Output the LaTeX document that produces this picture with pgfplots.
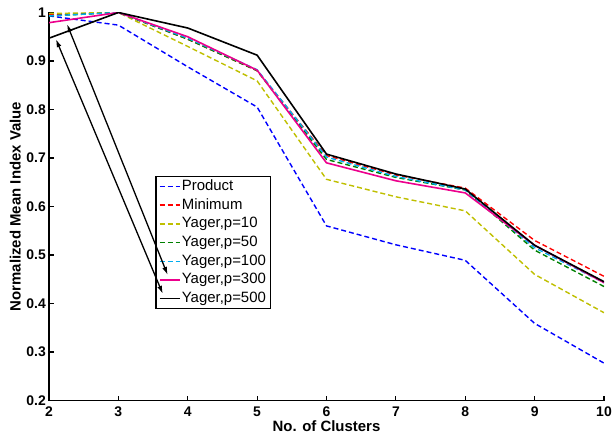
\documentclass[border=0pt]{standalone}
\usepackage{pgfplots}
\pgfplotsset{compat=1.18}
\usepackage{fontspec}
\setmainfont{Liberation Sans}
\usetikzlibrary{arrows.meta}
\definecolor{myyellow}{rgb}{0.75,0.75,0}
\definecolor{mygreen}{rgb}{0,0.5,0}
\begin{document}
\begin{tikzpicture}
\begin{axis}[
  name=ax, at={(0,0)}, anchor=south west,
  scale only axis, width=555bp, height=388bp,
  xmin=2, xmax=10, ymin=0.2, ymax=1,
  axis x line*=bottom, axis y line*=left,
  axis line style={line width=1.6bp, black},
  xtick={2,3,4,5,6,7,8,9,10},
  ytick={0.2,0.3,0.4,0.5,0.6,0.7,0.8,0.9,1},
  tick align=inside, major tick length=5bp,
  tick style={line width=1.2bp, black},
  /pgf/number format/assume math mode=true,
  ticklabel style={font=\fontsize{14}{16}\selectfont\bfseries},
  yticklabel style={/pgf/number format/fixed, /pgf/number format/precision=1, anchor=east, inner sep=0pt, xshift=-3bp},
  xticklabel style={anchor=north, inner sep=0pt, yshift=-6bp},
  xlabel={No. of Clusters},
  ylabel={Normalized Mean Index Value},
  label style={font=\fontsize{15}{17}\selectfont\bfseries, inner sep=0pt},
  xlabel style={at={([yshift=-19.5bp]axis description cs:0.5,0)}, anchor=north},
  ylabel style={at={([xshift=-28bp]axis description cs:0,0.5)}, anchor=south},
  legend image code/.code={\draw[#1] (0bp,0bp) -- (20bp,0bp);},
  legend style={at={(rel axis cs:0.191,0.579)}, anchor=north west,
    draw=black, line width=1.5bp, fill=white,
    font=\fontsize{15}{17}\selectfont,
    inner xsep=3bp, inner ysep=0.5bp, row sep=0pt,
    nodes={inner xsep=1.5bp, inner ysep=1.35bp, text height=12bp, text depth=4bp},
    cells={anchor=west}},
]
\addplot[blue, line width=1.4bp, dash pattern=on 5bp off 3bp] coordinates {
(2,0.993) (3,0.974) (4,0.888) (5,0.805) (6,0.560) (7,0.521) (8,0.489) (9,0.359) (10,0.277)};
\addlegendentry{Product}
\addplot[red, line width=1.4bp, dash pattern=on 5bp off 3bp] coordinates {
(2,0.995) (3,1.0) (4,0.945) (5,0.880) (6,0.705) (7,0.665) (8,0.638) (9,0.530) (10,0.456)};
\addlegendentry{Minimum}
\addplot[myyellow, line width=1.4bp, dash pattern=on 5bp off 3bp] coordinates {
(2,0.998) (3,1.0) (4,0.930) (5,0.859) (6,0.656) (7,0.620) (8,0.591) (9,0.460) (10,0.381)};
\addlegendentry{Yager,p=10}
\addplot[mygreen, line width=1.4bp, dash pattern=on 5bp off 3bp] coordinates {
(2,0.993) (3,1.0) (4,0.945) (5,0.880) (6,0.697) (7,0.660) (8,0.634) (9,0.510) (10,0.435)};
\addlegendentry{Yager,p=50}
\addplot[cyan, line width=1.4bp, dash pattern=on 5bp off 3bp] coordinates {
(2,0.993) (3,1.0) (4,0.947) (5,0.882) (6,0.702) (7,0.662) (8,0.634) (9,0.515) (10,0.443)};
\addlegendentry{Yager,p=100}
\addplot[magenta, line width=1.6bp] coordinates {
(2,0.979) (3,1.0) (4,0.950) (5,0.881) (6,0.690) (7,0.653) (8,0.628) (9,0.520) (10,0.443)};
\addlegendentry{Yager,p=300}
\addplot[black, line width=1.6bp] coordinates {
(2,0.947) (3,1.0) (4,0.968) (5,0.912) (6,0.708) (7,0.667) (8,0.636) (9,0.520) (10,0.445)};
\addlegendentry{Yager,p=500}
\coordinate (a1s) at (axis cs:2.10,0.945);
\coordinate (a1e) at (axis cs:3.64,0.420);
\coordinate (a2s) at (axis cs:2.26,0.976);
\coordinate (a2e) at (axis cs:3.71,0.459);
\end{axis}
\draw[line width=1.3bp, {Latex[length=8bp,width=5bp]}-{Latex[length=8bp,width=5bp]}] (a1s) -- (a1e);
\draw[line width=1.3bp, {Latex[length=8bp,width=5bp]}-{Latex[length=8bp,width=5bp]}] (a2s) -- (a2e);
\pgfresetboundingbox
\path (-49bp,-37.5bp) rectangle (566bp,400.5bp);
\end{tikzpicture}
\end{document}
